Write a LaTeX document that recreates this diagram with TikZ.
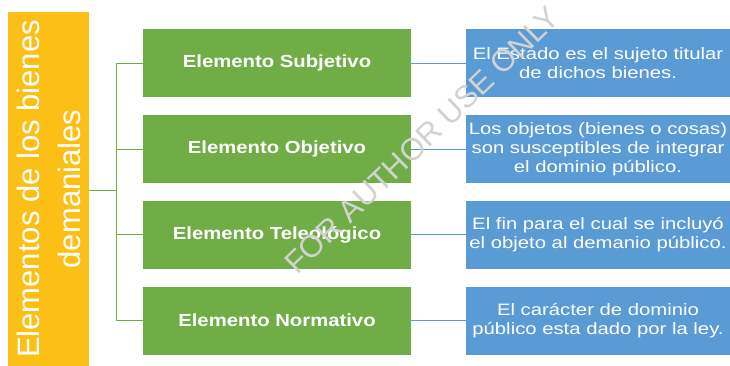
\documentclass[tikz,border=0pt]{standalone}
\usepackage{fontspec}
\setmainfont{Liberation Sans}
\newfontfamily\elemfont{Liberation Sans}[FakeStretch=1.16]
\newfontfamily\descfont{Liberation Sans}[FakeStretch=1.23]
\usepackage{tikz}
\usetikzlibrary{calc, %for the trunk of the tree
                positioning}

\definecolor{rootyellow}{HTML}{FBBF16}
\definecolor{elemgreen}{HTML}{70AD47}
\definecolor{descblue}{HTML}{5B9BD5}

\begin{document}
\begin{tikzpicture}[x=1pt, y=-1pt,
                    Root/.style={fill=rootyellow, text=white, rotate=90, inner sep=0,
                                 minimum width=354pt, minimum height=81pt, align=center,
                                 font=\fontsize{31}{41}\selectfont},
                    Element/.style={fill=elemgreen, text=white, inner sep=0,
                                    minimum width=268pt, minimum height=68pt,
                                    font=\elemfont\bfseries\fontsize{17.5}{20}\selectfont},
                    Detail/.style={fill=descblue, text=white, inner sep=0, align=center,
                                   minimum width=264pt, minimum height=68pt,
                                   font=\descfont\fontsize{16.5}{19}\selectfont},
                    link_green/.style={elemgreen, line width=.9pt},
                    link_blue/.style={descblue, line width=.9pt},
                    stamp/.style={rotate=44, text=gray!35, font=\fontsize{31}{31}\selectfont}
                    ]
        \useasboundingbox (0,0) rectangle (730,366);

        % root of the tree
        \node[Root] (root) at (48.5,189) {Elementos de los bienes\\demaniales};

        % the four elements
        \node[Element] (E1) at (277,63)    {Elemento Subjetivo};
        \node[Element] (E2) at (277,149)   {Elemento Objetivo};
        \node[Element] (E3) at (277,234.5) {Elemento Teleol\'ogico};
        \node[Element] (E4) at (277,320.5) {Elemento Normativo};

        % what each one means
        \node[Detail] (D1) at (598,63)    {El Estado es el sujeto titular\\de dichos bienes.};
        \node[Detail] (D2) at (598,149)   {Los objetos (bienes o cosas)\\son susceptibles de integrar\\el dominio p\'ublico.};
        \node[Detail] (D3) at (598,234.5) {El fin para el cual se incluy\'o\\el objeto al demanio p\'ublico.};
        \node[Detail] (D4) at (598,320.5) {El car\'acter de dominio\\p\'ublico esta dado por la ley.};

        \coordinate (trunk) at (116,190);
        \draw[link_green] (root.south |- trunk) -- (trunk);
        \draw[link_green] (trunk |- E1) -- (trunk |- E4);
        \foreach \n in {1,...,4} {
            \draw[link_green] (trunk |- E\n) -- (E\n.west);
            \draw[link_blue] (E\n.east) -- (D\n.west);
        }

        \node[stamp] (mark) at (422,140) {FOR AUTHOR USE ONLY};
    \end{tikzpicture}
\end{document}
